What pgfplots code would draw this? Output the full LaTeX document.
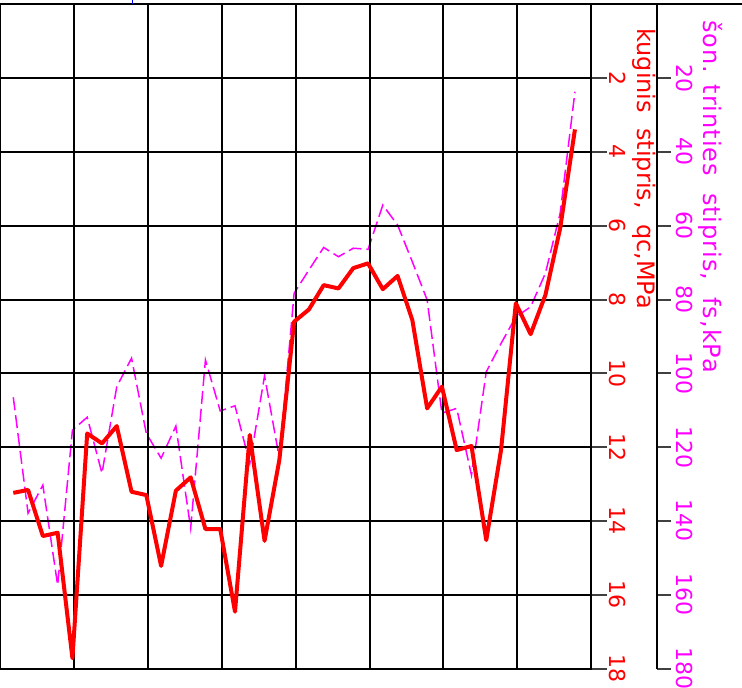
\documentclass[border=0pt]{standalone}
\usepackage{fontspec}
\setmainfont{DejaVu Sans}
\newfontfamily\magfont[LetterSpace=4]{DejaVu Sans}
\usepackage{pgfplots}
\usepackage{pgfplotstable}
\pgfplotsset{compat=1.18}
\pgfplotsset{/pgf/number format/assume math mode=true}
\definecolor{fsmag}{RGB}{255,0,255}
\definecolor{qcred}{RGB}{255,0,0}

% x: position along the profile, qc in MPa, fs in kPa
\pgfplotstableread{
x    qc     fs
0.18 13.24 106.5
0.38 13.16 137.9
0.58 14.41 130.3
0.78 14.32 157.4
0.98 17.72 115.4
1.18 11.63 111.9
1.38 11.90 127.1
1.58 11.43 103.6
1.78 13.21  95.9
1.98 13.30 116.3
2.18 15.22 123.0
2.38 13.18 114.3
2.58 12.82 142.0
2.78 14.22  96.4
2.98 14.22 110.2
3.18 16.46 108.8
3.38 11.67 124.4
3.58 14.54 100.7
3.78 12.35 123.0
3.98  8.60  78.3
4.18  8.27  72.0
4.38  7.61  65.9
4.58  7.70  68.4
4.78  7.15  66.1
4.98  7.02  66.4
5.18  7.72  54.4
5.38  7.36  59.8
5.58  8.56  69.8
5.78 10.95  80.1
5.98 10.36 110.8
6.18 12.08 109.5
6.38 11.97 127.6
6.58 14.52  99.6
6.78 12.08  91.9
6.98  8.10  84.7
7.18  8.94  82.0
7.38  7.88  72.9
7.58  6.07  56.6
7.78  3.39  23.7
}\cpt

\begin{document}
\begin{tikzpicture}
\useasboundingbox (0,-9.25pt) rectangle (371pt,334.25pt);

% side friction, second scale on the far right
\begin{axis}[
  scale only axis, width=328.7pt, height=332.1pt,
  xmin=0, xmax=8.896, ymin=0, ymax=180, y dir=reverse,
  hide x axis, axis y line=right,
  axis line style={black, line width=1pt, -},
  ytick={20,40,...,180},
  tick align=outside, major tick length=7pt,
  ytick style={black!75, line width=1pt},
  yticklabel style={rotate=-90, anchor=south, fsmag, inner sep=2pt,
    font=\fontsize{11}{13}\selectfont},
  clip=false,
]
\addplot[fsmag, line width=0.75pt, dash pattern=on 6.5pt off 2.5pt]
  table[x=x, y=fs] {\cpt};
\end{axis}

% cone resistance
\begin{axis}[
  scale only axis, width=295.6pt, height=332.1pt,
  xmin=0, xmax=8, ymin=0, ymax=18, y dir=reverse,
  xtick={1,...,7}, xticklabels={}, xtick style={draw=none},
  ytick={2,4,...,18}, ytick pos=right, yticklabel pos=right,
  tick align=outside, major tick length=8pt,
  ytick style={black!75, line width=1pt},
  yticklabel style={rotate=-90, anchor=south, qcred, inner sep=1pt,
    font=\fontsize{11}{13}\selectfont},
  grid=major, grid style={black, line width=1pt},
  axis line style={black, line width=1pt},
]
\addplot[qcred, line width=2pt, line join=round] table[x=x, y=qc] {\cpt};
\end{axis}

\draw[black, line width=1pt] (295.6pt,332.1pt) -- (371pt,332.1pt);
\draw[blue, line width=0.6pt] (66.25pt,332.1pt) -- (66.25pt,334.25pt);

\node[qcred, rotate=-90, anchor=south west, inner sep=0pt,
  font=\fontsize{12}{14}\selectfont] at (316pt,320.25pt)
  {kuginis\ \ stipris,\ \ qc,MPa};
\node[fsmag, rotate=-90, anchor=south west, inner sep=0pt,
  font=\magfont\fontsize{12}{14}\selectfont] at (349pt,324.25pt)
  {šon. trinties\ \ stipris,\ \ fs,kPa};
\end{tikzpicture}
\end{document}
